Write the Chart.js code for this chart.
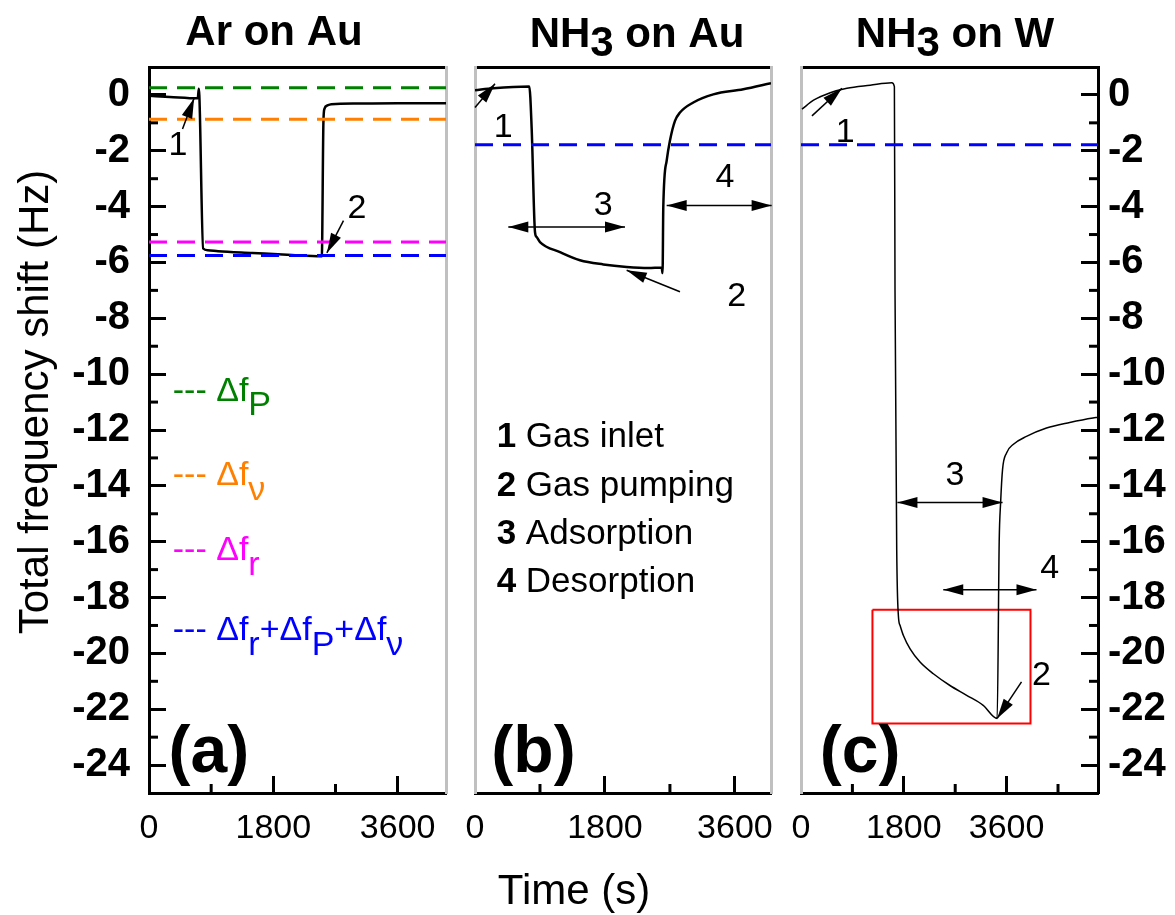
<!DOCTYPE html>
<html>
<head>
<meta charset="utf-8">
<title>Total frequency shift</title>
<script src="https://cdn.jsdelivr.net/npm/chart.js@4.4.0/dist/chart.umd.min.js"></script>
<style>
    body { margin: 0; background: #fff; }
    #wrap { position: relative; width: 1175px; height: 915px; }
    canvas { position: absolute; top: 0; }
    #chartA { left: 0; }
    #chartB { left: 460px; }
    #chartC { left: 785px; }
</style>
</head>
<body>
<div id="wrap">
    <canvas id="chartA" width="460" height="915"></canvas>
    <canvas id="chartB" width="325" height="915"></canvas>
    <canvas id="chartC" width="390" height="915"></canvas>
</div>
<script>
// tick labels
const timeTicks = [0, 1800, 3600];
const minorTime = [900, 2700, 4500];
const shiftTicks = [0, -2, -4, -6, -8, -10, -12, -14, -16, -18, -20, -22, -24];
const minorShift = [-1, -3, -5, -7, -9, -11, -13, -15, -17, -19, -21, -23];

// (a) Ar on Au
const arAuTime = [0, 300, 706, 721, 784, 850, 1000, 1500, 2000, 2502, 2525, 2540, 2580, 2640, 3000, 3600, 4300];
const arAuShift = [-0.03, -0.07, -0.12, 0.22, -5.5, -5.56, -5.6, -5.66, -5.72, -5.78, -1.0, -0.5, -0.38, -0.33, -0.31, -0.3, -0.3];
const arAuLevels = [0.26, -0.87, -5.27, -5.75];
const levelColors = ['#008000', '#ff8000', '#ff00ff', '#0000ff'];

// (b) NH3 on Au
const nh3AuTime = [0, 253, 752, 785, 831, 854, 900, 1177, 1454, 1777, 2101, 2400, 2586, 2598, 2608, 2655, 2700, 2770, 2839, 3024, 3301, 3716, 4100];
const nh3AuShift = [0.17, 0.24, 0.3, -1.2, -4.91, -5.09, -5.27, -5.63, -5.92, -6.07, -6.16, -6.2, -6.18, -6.38, -4.02, -2.35, -1.64, -0.93, -0.63, -0.27, 0.02, 0.2, 0.42];

// (c) NH3 on W
const nh3WTime = [17, 220, 512, 804, 1211, 1590, 1635, 1646, 1676, 1705, 1735, 1793, 1910, 2084, 2317, 2608, 2900, 3190, 3435,
    3470, 3495, 3529, 3599, 3714, 3948, 4298, 4705, 5112, 5190];
const nh3WShift = [-0.51, -0.19, 0.08, 0.24, 0.35, 0.44, 0.3, -7.0, -16.3, -18.65, -19.0, -19.36, -19.84, -20.31, -20.73, -21.15, -21.5, -21.86, -22.33,
    -16.0, -14.6, -13.41, -12.82, -12.52, -12.23, -11.93, -11.73, -11.57, -11.55];

const nh3Level = -1.78;
const boxTime = [1251, 4018];
const boxShift = [-18.44, -22.51];

const FONT = "'Liberation Sans', Arial, sans-serif";
const GRAY = '#c0c0c0';

function points(times, shifts) {
    return times.map((t, i) => ({ x: t, y: shifts[i] }));
}

function curve(times, shifts, width) {
    return {
        data: points(times, shifts),
        borderColor: '#000', borderWidth: width,
        pointRadius: 0, cubicInterpolationMode: 'monotone'
    };
}

function dashed(v, xmax, color) {
    return {
        data: [{ x: 0, y: v }, { x: xmax, y: v }],
        borderColor: color, borderWidth: 3, borderDash: [18, 10],
        pointRadius: 0
    };
}

function drawParts(ctx, x, y, parts, size, color) {
    ctx.fillStyle = color;
    ctx.textBaseline = 'middle';
    ctx.textAlign = 'left';
    parts.forEach(p => {
        ctx.font = (p.bold ? 'bold ' : '') + size + 'px ' + FONT;
        let dy = p.sub ? size * 0.42 : 0;
        ctx.fillText(p.t, x, y + dy);
        x += ctx.measureText(p.t).width;
    });
}

function arrowHead(ctx, x1, y1, x2, y2) {
    let a = Math.atan2(y2 - y1, x2 - x1);
    let L = 20, W = 5.5;
    ctx.beginPath();
    ctx.moveTo(x2, y2);
    ctx.lineTo(x2 - L * Math.cos(a) + W * Math.sin(a), y2 - L * Math.sin(a) - W * Math.cos(a));
    ctx.lineTo(x2 - L * Math.cos(a) - W * Math.sin(a), y2 - L * Math.sin(a) + W * Math.cos(a));
    ctx.closePath();
    ctx.fill();
}

// texts, arrows and minor ticks for one panel
function notes(spec) {
    return {
        id: 'notes',
        afterDraw(chart) {
            let ctx = chart.ctx;
            let xs = chart.scales.x, ys = chart.scales.y;
            let area = chart.chartArea;
            ctx.save();
            ctx.strokeStyle = '#000';
            ctx.lineWidth = 3;
            minorTime.forEach(t => {
                if (t >= xs.max) return;
                let px = xs.getPixelForValue(t);
                ctx.beginPath(); ctx.moveTo(px, area.bottom); ctx.lineTo(px, area.bottom - 9); ctx.stroke();
            });
            if (spec.minorY) {
                minorShift.forEach(v => {
                    let py = ys.getPixelForValue(v);
                    let x0 = spec.minorY === 'left' ? area.left : area.right;
                    let x1 = spec.minorY === 'left' ? x0 + 9 : x0 - 9;
                    ctx.beginPath(); ctx.moveTo(x0, py); ctx.lineTo(x1, py); ctx.stroke();
                });
            }
            ctx.fillStyle = '#000';
            ctx.lineWidth = 1.5;
            (spec.arrows || []).forEach(a => {
                let x1 = xs.getPixelForValue(a[0]), y1 = ys.getPixelForValue(a[1]);
                let x2 = xs.getPixelForValue(a[2]), y2 = ys.getPixelForValue(a[3]);
                ctx.beginPath(); ctx.moveTo(x1, y1); ctx.lineTo(x2, y2); ctx.stroke();
                arrowHead(ctx, x1, y1, x2, y2);
                if (a[4]) arrowHead(ctx, x2, y2, x1, y1);
            });
            (spec.labels || []).forEach(l => {
                ctx.font = (l.bold ? 'bold ' : '') + l.size + 'px ' + FONT;
                ctx.fillStyle = '#000';
                ctx.textAlign = 'center';
                ctx.textBaseline = 'middle';
                ctx.fillText(l.text, xs.getPixelForValue(l.t), ys.getPixelForValue(l.v));
            });
            (spec.rich || []).forEach(r => {
                drawParts(ctx, xs.getPixelForValue(r.t), ys.getPixelForValue(r.v), r.parts, r.size, r.color);
            });
            // titles sit outside the frame, in canvas pixels
            (spec.titles || []).forEach(h => {
                ctx.save();
                ctx.translate(h.x, h.y);
                if (h.rotate) ctx.rotate(-Math.PI / 2);
                ctx.font = h.font;
                let w = 0;
                h.parts.forEach(p => { w += ctx.measureText(p.t).width; });
                let x = -w / 2;
                ctx.fillStyle = '#000';
                ctx.textBaseline = 'middle';
                ctx.textAlign = 'left';
                h.parts.forEach(p => {
                    ctx.fillText(p.t, x, p.sub ? 9 : 0);
                    x += ctx.measureText(p.t).width;
                });
                ctx.restore();
            });
            ctx.restore();
        }
    };
}

function edge(position, size, color) {
    let horiz = position === 'top' || position === 'bottom';
    return {
        type: 'linear', position: position,
        min: horiz ? 0 : -25, max: horiz ? 100 : 1,
        afterFit: s => {
            if (horiz) s.height = size; else s.width = size;
            s.paddingLeft = 0; s.paddingRight = 0; s.paddingTop = 0; s.paddingBottom = 0;
        },
        grid: { display: false },
        ticks: { display: false },
        border: { display: true, color: color, width: 3 }
    };
}

function makePanel(id, p) {
    let scales = {
        x: {
            type: 'linear', position: 'bottom', min: 0, max: p.xmax,
            afterBuildTicks: s => { s.ticks = timeTicks.map(v => ({ value: v })); },
            afterFit: s => { s.height = 122; s.paddingLeft = 0; s.paddingRight = 0; },
            grid: { drawOnChartArea: false, drawTicks: true, tickLength: -17, tickWidth: 3, tickColor: '#000' },
            border: { display: true, color: '#000', width: 3 },
            ticks: {
                color: '#000', font: { family: FONT, size: 34 }, padding: 32,
                maxRotation: 0, autoSkip: false, callback: v => String(v)
            }
        },
        xTop: edge('top', 67, '#000')
    };
    scales.y = {
        type: 'linear', position: p.yPos, min: -25, max: 1,
        afterBuildTicks: s => { s.ticks = shiftTicks.map(v => ({ value: v })); },
        afterFit: s => {
            s.width = p.yWidth;
            s.paddingTop = 0; s.paddingBottom = 0; s.paddingLeft = 0; s.paddingRight = 0;
        },
        grid: { display: p.yTicks, drawOnChartArea: false, drawTicks: true, tickLength: -17, tickWidth: 3, tickColor: '#000' },
        border: { display: true, color: p.yTicks ? '#000' : GRAY, width: 3 },
        ticks: {
            display: p.yTicks, color: '#000', font: { family: FONT, size: 40, weight: 'bold' },
            padding: p.yPos === 'left' ? 36 : 27, autoSkip: false, callback: v => String(v)
        }
    };
    scales.yEdge = edge(p.yPos === 'left' ? 'right' : 'left', p.edgeWidth, GRAY);

    return new Chart(document.getElementById(id), {
        type: 'line',
        data: { datasets: p.datasets },
        options: {
            responsive: false,
            animation: false,
            layout: { padding: 0 },
            scales: scales,
            plugins: { legend: { display: false }, tooltip: { enabled: false } }
        },
        plugins: [notes(p.notes)]
    });
}

const titleFont = 'bold 42px ' + FONT;

makePanel('chartA', {
    xmax: 4300, yPos: 'left', yWidth: 149, yTicks: true, edgeWidth: 14,
    datasets: arAuLevels.map((v, i) => dashed(v, 4300, levelColors[i]))
        .concat([curve(arAuTime, arAuShift, 2.5)]),
    notes: {
        minorY: 'left',
        arrows: [[485, -1.22, 653, -0.12], [2816, -4.5, 2575, -5.66]],
        labels: [
            { t: 421, v: -1.82, text: '1', size: 34 },
            { t: 3010, v: -4.08, text: '2', size: 34 },
            { t: 866, v: -23.6, text: '(a)', size: 66, bold: true }
        ],
        rich: [
            { t: 344, v: -10.63, size: 34, color: levelColors[0], parts: [{ t: '--- Δf' }, { t: 'P', sub: true }] },
            { t: 344, v: -13.65, size: 34, color: levelColors[1], parts: [{ t: '--- Δf' }, { t: 'ν', sub: true }] },
            { t: 344, v: -16.33, size: 34, color: levelColors[2], parts: [{ t: '--- Δf' }, { t: 'r', sub: true }] },
            { t: 344, v: -19.2, size: 34, color: levelColors[3], parts: [
                { t: '--- Δf' }, { t: 'r', sub: true }, { t: '+Δf' }, { t: 'P', sub: true }, { t: '+Δf' }, { t: 'ν', sub: true }] }
        ],
        titles: [
            { x: 274, y: 33, font: titleFont, parts: [{ t: 'Ar on Au' }] },
            { x: 36, y: 402, rotate: true, font: '42px ' + FONT, parts: [{ t: 'Total frequency shift (Hz)' }] }
        ]
    }
});

makePanel('chartB', {
    xmax: 4100, yPos: 'left', yWidth: 15, yTicks: false, edgeWidth: 14,
    datasets: [dashed(nh3Level, 4100, '#0000ff'), curve(nh3AuTime, nh3AuShift, 2.5)],
    notes: {
        arrows: [
            [0, -0.45, 277, 0.4],
            [461, -4.73, 2078, -4.73, true],
            [2655, -3.96, 4109, -3.96, true],
            [2839, -7.05, 2101, -6.28]
        ],
        labels: [
            { t: 392, v: -1.17, text: '1', size: 34 },
            { t: 1777, v: -3.96, text: '3', size: 34 },
            { t: 3463, v: -2.95, text: '4', size: 34 },
            { t: 3625, v: -7.23, text: '2', size: 34 },
            { t: 810, v: -23.6, text: '(b)', size: 66, bold: true }
        ],
        rich: [
            { t: 300, v: -12.27, size: 35, color: '#000', parts: [{ t: '1', bold: true }, { t: ' Gas inlet' }] },
            { t: 300, v: -14.0, size: 35, color: '#000', parts: [{ t: '2', bold: true }, { t: ' Gas pumping' }] },
            { t: 300, v: -15.73, size: 35, color: '#000', parts: [{ t: '3', bold: true }, { t: ' Adsorption' }] },
            { t: 300, v: -17.45, size: 35, color: '#000', parts: [{ t: '4', bold: true }, { t: ' Desorption' }] }
        ],
        titles: [
            { x: 177, y: 35, font: titleFont, parts: [{ t: 'NH' }, { t: '3', sub: true }, { t: ' on Au' }] },
            { x: 114, y: 892, font: '42px ' + FONT, parts: [{ t: 'Time (s)' }] }
        ]
    }
});

makePanel('chartC', {
    xmax: 5200, yPos: 'right', yWidth: 77, yTicks: true, edgeWidth: 16,
    datasets: [
        dashed(nh3Level, 5200, '#0000ff'),
        curve(nh3WTime, nh3WShift, 1.5),
        {
            data: [
                { x: boxTime[0], y: boxShift[0] }, { x: boxTime[1], y: boxShift[0] },
                { x: boxTime[1], y: boxShift[1] }, { x: boxTime[0], y: boxShift[1] },
                { x: boxTime[0], y: boxShift[0] }
            ],
            borderColor: '#ff0000', borderWidth: 2, pointRadius: 0, tension: 0
        }
    ],
    notes: {
        minorY: 'right',
        arrows: [
            [192, -0.75, 716, 0.24],
            [1688, -14.6, 3529, -14.6, true],
            [2491, -17.72, 4123, -17.72, true],
            [3861, -21.02, 3435, -22.33]
        ],
        labels: [
            { t: 774, v: -1.35, text: '1', size: 34 },
            { t: 2696, v: -13.65, text: '3', size: 34 },
            { t: 4355, v: -16.98, text: '4', size: 34 },
            { t: 4210, v: -20.79, text: '2', size: 34 },
            { t: 1036, v: -23.6, text: '(c)', size: 66, bold: true }
        ],
        titles: [{ x: 170, y: 35, font: titleFont, parts: [{ t: 'NH' }, { t: '3', sub: true }, { t: ' on W' }] }]
    }
});
</script>
</body>
</html>
